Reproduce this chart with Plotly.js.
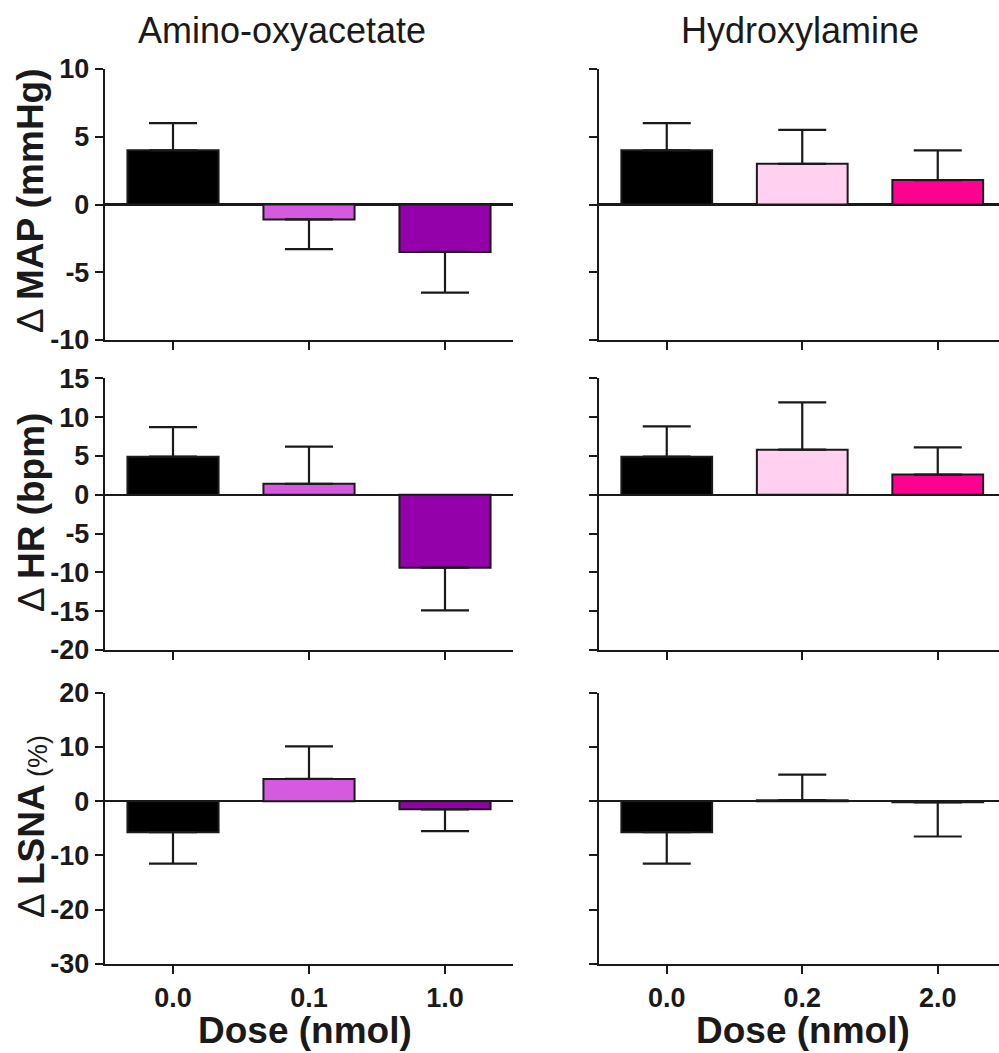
<!DOCTYPE html>
<html>
<head>
<meta charset="utf-8">
<script src="https://cdn.plot.ly/plotly-3.0.1.min.js"></script>
<style>html,body{margin:0;padding:0;background:#fff;}#chart{width:999px;height:1053px;}</style>
</head>
<body>
<div id="chart"></div>
<script>
// ---- data ----
var doseAOA = ['0.0', '0.1', '1.0'];
var doseHA = ['0.0', '0.2', '2.0'];
var colorsAOA = ['#000000', '#d65ae0', '#9400aa'];
var colorsHA = ['#000000', '#ffd0f0', '#ff0090'];

var mapAOA = [4.0, -1.1, -3.5];
var mapAOAerr = [2.0, 2.2, 3.0];
var mapHA = [4.0, 3.0, 1.8];
var mapHAerr = [2.0, 2.5, 2.2];

var hrAOA = [4.9, 1.4, -9.4];
var hrAOAerr = [3.8, 4.8, 5.5];
var hrHA = [4.9, 5.8, 2.6];
var hrHAerr = [3.9, 6.1, 3.5];

var lsnaAOA = [-5.7, 4.1, -1.5];
var lsnaAOAerr = [5.8, 6.0, 4.0];
var lsnaHA = [-5.7, 0.2, -0.2];
var lsnaHAerr = [5.8, 4.7, 6.3];

var mapTicks = [-10, -5, 0, 5, 10];
var hrTicks = [-20, -15, -10, -5, 0, 5, 10, 15];
var lsnaTicks = [-30, -20, -10, 0, 10, 20];

var colTitles = ['Amino-oxyacetate', 'Hydroxylamine'];
var rowTitles = ['Δ <b>MAP (mmHg)</b>', 'Δ <b>HR (bpm)</b>', 'Δ <b>LSNA</b>'];
var lsnaUnit = '(%)';
var xTitle = '<b>Dose (nmol)</b>';

// ---- layout helpers ----
var W = 999, H = 1053;
var FONT = '"Liberation Sans", Arial, Helvetica, sans-serif';
var INK = '#1a1a1a';
var TICKSIZE = 27;

function px2x(p) { return p / W; }
function px2y(p) { return (H - p) / H; }

var rows = [
  {top: 69, bot: 340, range: [-10, 10], ticks: mapTicks},
  {top: 378.3, bot: 650, range: [-20, 15], ticks: hrTicks},
  {top: 692.7, bot: 964, range: [-30, 20], ticks: lsnaTicks}
];
var cols = [
  {left: 105, right: 513, range: [-0.5, 2.5], cats: doseAOA, colors: colorsAOA},
  {left: 599, right: 999, range: [-0.5, 2.452], cats: doseHA, colors: colorsHA}
];
var series = [
  [[mapAOA, mapAOAerr], [mapHA, mapHAerr]],
  [[hrAOA, hrAOAerr], [hrHA, hrHAerr]],
  [[lsnaAOA, lsnaAOAerr], [lsnaHA, lsnaHAerr]]
];

var data = [];
var layout = {
  width: W, height: H,
  margin: {l: 0, r: 0, t: 0, b: 0},
  paper_bgcolor: '#ffffff',
  plot_bgcolor: '#ffffff',
  showlegend: false,
  font: {family: FONT, color: INK, size: 14},
  annotations: []
};

var idx = 0;
for (var r = 0; r < 3; r++) {
  for (var c = 0; c < 2; c++) {
    idx++;
    var xa = 'xaxis' + (idx === 1 ? '' : idx);
    var ya = 'yaxis' + (idx === 1 ? '' : idx);
    var xr = 'x' + (idx === 1 ? '' : idx);
    var yr = 'y' + (idx === 1 ? '' : idx);
    var vals = series[r][c][0];
    var errs = series[r][c][1];
    var up = vals.map(function (v, i) { return v >= 0 ? errs[i] : 0; });
    var dn = vals.map(function (v, i) { return v < 0 ? errs[i] : 0; });
    data.push({
      type: 'bar',
      x: cols[c].cats,
      y: vals,
      xaxis: xr, yaxis: yr,
      width: 0.67,
      marker: {color: cols[c].colors, line: {color: INK, width: 2}},
      error_y: {type: 'data', symmetric: false, array: up, arrayminus: dn,
                color: INK, thickness: 2.2, width: 24},
      hoverinfo: 'x+y'
    });
    layout[xa] = {
      domain: [px2x(cols[c].left), px2x(cols[c].right)],
      anchor: yr,
      type: 'category',
      range: cols[c].range,
      showline: true, linecolor: INK, linewidth: 2.2,
      ticks: 'outside', ticklen: 8, tickwidth: 2, tickcolor: INK,
      showgrid: false, zeroline: false,
      showticklabels: r === 2,
      tickfont: {family: FONT, size: TICKSIZE, color: INK, weight: 700},
      fixedrange: true
    };
    layout[ya] = {
      domain: [px2y(rows[r].bot), px2y(rows[r].top)],
      anchor: xr,
      range: rows[r].range,
      tickmode: 'array',
      tickvals: rows[r].ticks,
      ticktext: rows[r].ticks.map(function (t) { return String(t); }),
      showline: true, linecolor: INK, linewidth: 2.2,
      ticks: 'outside', ticklen: 8, tickwidth: 2, tickcolor: INK,
      showgrid: false,
      zeroline: true, zerolinecolor: INK, zerolinewidth: 2.2,
      showticklabels: c === 0,
      tickfont: {family: FONT, size: TICKSIZE, color: INK, weight: 700},
      fixedrange: true
    };
  }
}

// column titles and x titles
var colCenters = [281.5, 800];
for (var c2 = 0; c2 < 2; c2++) {
  layout.annotations.push({
    text: colTitles[c2], xref: 'paper', yref: 'paper',
    x: px2x(colCenters[c2]), y: px2y(31), xanchor: 'center', yanchor: 'middle',
    showarrow: false, font: {family: FONT, size: 36, color: INK}
  });
  layout.annotations.push({
    text: xTitle, xref: 'paper', yref: 'paper',
    x: px2x([305, 803][c2]), y: px2y(1030), xanchor: 'center', yanchor: 'middle',
    showarrow: false, font: {family: FONT, size: 37, color: INK}
  });
}
// row titles
var rowCenters = [201, 513, 851];
for (var r2 = 0; r2 < 3; r2++) {
  layout.annotations.push({
    text: rowTitles[r2], xref: 'paper', yref: 'paper',
    x: px2x(31), y: px2y(rowCenters[r2]), xanchor: 'center', yanchor: 'middle',
    textangle: -90, showarrow: false, font: {family: FONT, size: 37, color: INK}
  });
}
layout.annotations.push({
  text: lsnaUnit, xref: 'paper', yref: 'paper',
  x: px2x(38), y: px2y(756), xanchor: 'center', yanchor: 'middle',
  textangle: -90, showarrow: false, font: {family: FONT, size: 27, color: INK}
});

Plotly.newPlot('chart', data, layout, {displayModeBar: false, staticPlot: true});
</script>
</body>
</html>
